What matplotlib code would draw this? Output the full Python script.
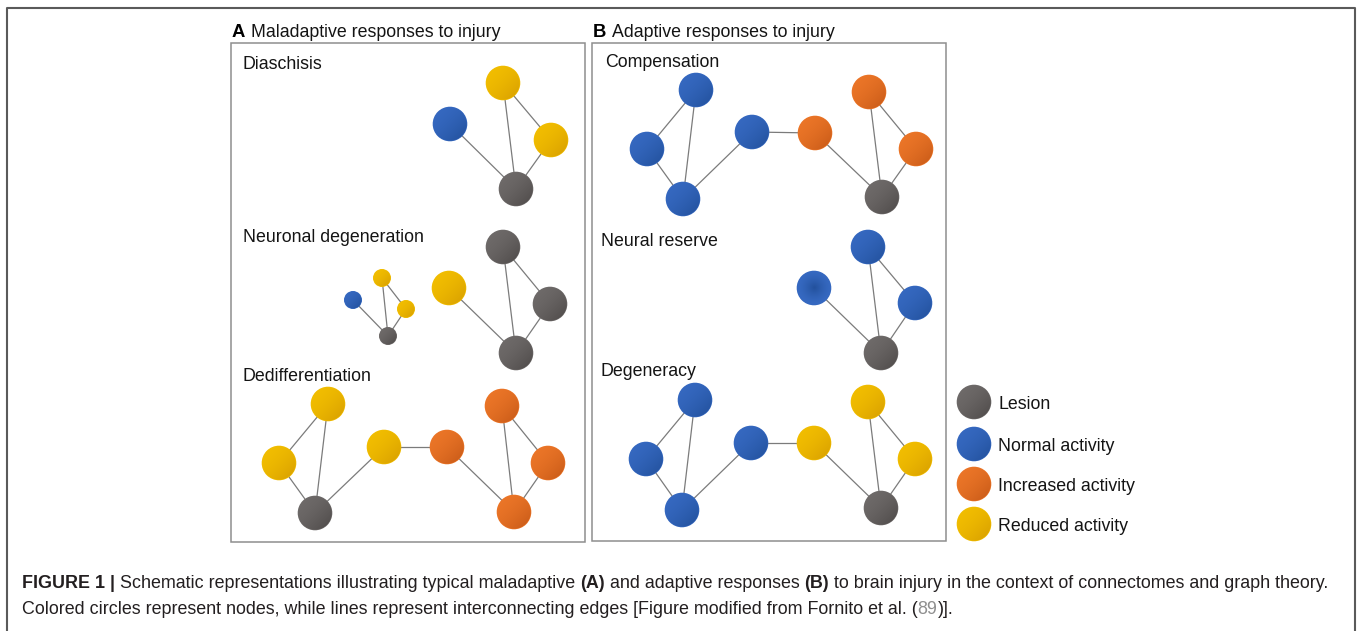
import numpy as np
import matplotlib
matplotlib.use("Agg")
import matplotlib.pyplot as plt
from matplotlib.patches import Circle, Rectangle
from matplotlib.lines import Line2D
from matplotlib.colors import to_rgb

plt.rcParams['font.family'] = ['Liberation Sans', 'DejaVu Sans']

W, H = 1358, 631

# ---------------- data ----------------
# node colours: (light top-left, dark bottom-right)
KIND_COLORS = {
    'lesion':    ('#6f6b6a', '#4b4746'),
    'normal':    ('#3669c1', '#204e98'),
    'increased': ('#ec7628', '#c45716'),
    'reduced':   ('#f2be00', '#d59c00'),
}

BIG_R = 17.3
SMALL_R = 9.0

# Panel A
diaschisis_nodes = [(450, 124, 'normal'), (503, 83, 'reduced'), (551, 140, 'reduced'), (516, 189, 'lesion')]
star_edges = [(0, 3), (1, 3), (1, 2), (2, 3)]

degen_small_nodes = [(353, 300, 'normal'), (382, 278, 'reduced'), (406, 309, 'reduced'), (388, 336, 'lesion')]
degen_big_nodes = [(449, 288, 'reduced'), (503, 247, 'lesion'), (550, 304, 'lesion'), (516, 353, 'lesion')]

dediff_nodes = [(328, 404, 'reduced'), (279, 463, 'reduced'), (315, 513, 'lesion'), (384, 447, 'reduced'),
                (447, 447, 'increased'), (502, 406, 'increased'), (548, 463, 'increased'), (514, 512, 'increased')]
chain_edges = [(0, 1), (1, 2), (0, 2), (2, 3), (3, 4), (4, 7), (5, 7), (5, 6), (6, 7)]

# Panel B
comp_nodes = [(696, 90, 'normal'), (647, 149, 'normal'), (683, 199, 'normal'), (752, 132, 'normal'),
              (815, 133, 'increased'), (869, 92, 'increased'), (916, 149, 'increased'), (882, 197, 'lesion')]
reserve_nodes = [(814, 288, 'normal'), (868, 247, 'normal'), (915, 303, 'normal'), (881, 353, 'lesion')]
reserve_radial = [True, False, False, False]
degeneracy_nodes = [(695, 400, 'normal'), (646, 459, 'normal'), (682, 510, 'normal'), (751, 443, 'normal'),
                    (814, 443, 'reduced'), (868, 402, 'reduced'), (915, 459, 'reduced'), (881, 508, 'lesion')]

# Legend
legend_labels = ['Lesion', 'Normal activity', 'Increased activity', 'Reduced activity']
legend_kinds = ['lesion', 'normal', 'increased', 'reduced']
legend_y = [402, 444, 484, 524]

# Labels
panel_titles = [('A', 'Maladaptive responses to injury', 232, 251, 37),
                ('B', 'Adaptive responses to injury', 593, 612, 37)]
sub_labels = [('Diaschisis', 243, 69), ('Neuronal degeneration', 243, 242), ('Dedifferentiation', 242, 381),
              ('Compensation', 605, 67), ('Neural reserve', 601, 246), ('Degeneracy', 601, 376)]

caption_line1 = [("FIGURE 1 |", 'bold', None),
                 (" Schematic representations illustrating typical maladaptive ", 'normal', None),
                 ("(A)", 'bold', None),
                 (" and adaptive responses ", 'normal', None),
                 ("(B)", 'bold', None),
                 (" to brain injury in the context of connectomes and graph theory.", 'normal', None)]
caption_line2 = [("Colored circles represent nodes, while lines represent interconnecting edges [Figure modified from Fornito et al. (", 'normal', None),
                 ("89", 'normal', '#8f8f8f'),
                 (")].", 'normal', None)]

# ---------------- drawing ----------------
fig = plt.figure(figsize=(W / 100, H / 100), dpi=100)
ax = fig.add_axes([0, 0, 1, 1])
ax.set_xlim(0, W)
ax.set_ylim(H, 0)
ax.axis('off')

TXT = '#141414'
FS = 12.8


def draw_node(x, y, r, kind, radial=False):
    light, dark = KIND_COLORS[kind]
    c0 = np.array(to_rgb(light))
    c1 = np.array(to_rgb(dark))
    ax.add_patch(Circle((x, y), r, facecolor=light, edgecolor='none', zorder=3, antialiased=True))
    n = 48
    u = np.linspace(0, 1, n)
    U, V = np.meshgrid(u, u)
    if radial:
        d = np.sqrt((U - 0.5) ** 2 + (V - 0.5) ** 2) / 0.5
        t = np.clip(1 - d, 0, 1) ** 1.5 * 0.9
    else:
        t = np.clip((U + V) / 2.0, 0, 1) ** 1.8
    img = c0[None, None, :] * (1 - t[..., None]) + c1[None, None, :] * t[..., None]
    im = ax.imshow(img, extent=(x - r, x + r, y + r, y - r), zorder=4, interpolation='bilinear', aspect='auto')
    clip = Circle((x, y), r - 0.6, transform=ax.transData, facecolor='none', edgecolor='none')
    im.set_clip_path(clip)


def draw_graph(nodes, edges, r, radial=None):
    for i, j in edges:
        ax.add_line(Line2D([nodes[i][0], nodes[j][0]], [nodes[i][1], nodes[j][1]],
                           color='#7b7b7b', lw=0.9, zorder=2, solid_capstyle='round'))
    for idx, (x, y, k) in enumerate(nodes):
        draw_node(x, y, r, k, radial[idx] if radial else False)


draw_graph(diaschisis_nodes, star_edges, BIG_R)
draw_graph(degen_small_nodes, star_edges, SMALL_R)
draw_graph(degen_big_nodes, star_edges, BIG_R)
draw_graph(dediff_nodes, chain_edges, BIG_R)
draw_graph(comp_nodes, chain_edges, BIG_R)
draw_graph(reserve_nodes, star_edges, BIG_R, reserve_radial)
draw_graph(degeneracy_nodes, chain_edges, BIG_R)

for lab, k, yy in zip(legend_labels, legend_kinds, legend_y):
    draw_node(974, yy, BIG_R, k)
    ax.text(998, yy + 7, lab, fontsize=FS, color=TXT, va='baseline', ha='left')

# panel boxes
for (x0, y0, x1, y1) in [(231, 43, 585, 542), (592, 43, 946, 541)]:
    ax.add_patch(Rectangle((x0, y0), x1 - x0, y1 - y0, facecolor='none', edgecolor='#8e8e8e', lw=1.1, zorder=1))

# outer frame
ax.add_line(Line2D([7, 7, 1355, 1355], [H + 5, 8, 8, H + 5], color='#5a5a5a', lw=1.5, zorder=1))

for letter, title, xl, xt, yb in panel_titles:
    ax.text(xl, yb, letter, fontsize=FS + 0.5, weight='bold', color='black', va='baseline')
    ax.text(xt, yb, title, fontsize=FS, color=TXT, va='baseline')

for lab, x, y in sub_labels:
    ax.text(x, y, lab, fontsize=FS, color=TXT, va='baseline')

# caption
renderer = fig.canvas.get_renderer()


def seg_width(s, weight, size):
    t1 = ax.text(0, 0, '|' + s + '|', fontsize=size, weight=weight)
    t2 = ax.text(0, 0, '||', fontsize=size, weight=weight)
    w = t1.get_window_extent(renderer).width - t2.get_window_extent(renderer).width
    t1.remove()
    t2.remove()
    return w


base = 12.0
w1 = sum(seg_width(s, wgt, base) for s, wgt, c in caption_line1)
CAP_FS = base * 1306.0 / w1


def draw_line(segs, x, y):
    for s, wgt, c in segs:
        ax.text(x, y, s, fontsize=CAP_FS, weight=wgt, color=c or '#231f20', va='baseline', ha='left')
        x += seg_width(s, wgt, CAP_FS)


draw_line(caption_line1, 22, 588)
draw_line(caption_line2, 22, 614)

fig.savefig('out.png', dpi=100)
